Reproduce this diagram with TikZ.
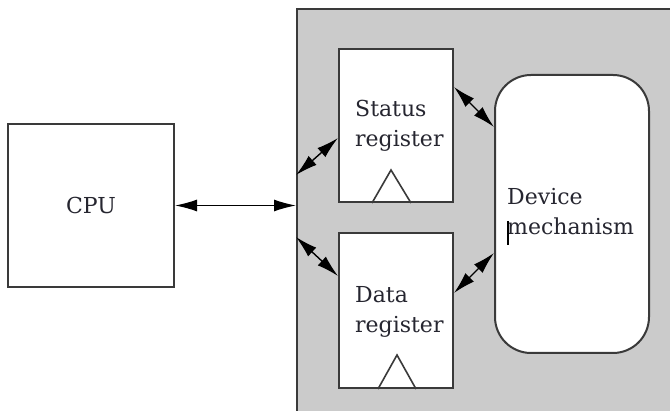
\documentclass[tikz,border=0pt]{standalone}
\usepackage{fontspec}
\setmainfont{DejaVu Serif}
\usetikzlibrary{arrows.meta}
\definecolor{iogray}{HTML}{CBCBCB}
\definecolor{edge}{HTML}{3A3A3A}
\definecolor{ink}{HTML}{262630}
\begin{document}
\begin{tikzpicture}[x=1pt,y=-1pt,
  box/.style={draw=edge, line width=2pt, fill=white, rectangle, inner sep=0pt},
  lbl/.style={font=\fontsize{22}{30}\selectfont, text=ink, inner sep=0pt, align=left},
  arr/.style={{Latex[length=22pt,width=12pt]}-{Latex[length=22pt,width=12pt]}, line width=1.4pt, black},
  clk/.style={draw=edge, line width=1.6pt}]
\useasboundingbox (0,0) rectangle (670,411);
\clip (0,0) rectangle (670,411);
\node[box, fill=iogray, minimum width=383pt, minimum height=421pt] (io) at (488.5,219.5) {};
\node[box, minimum width=166pt, minimum height=163pt] (cpu) at (91,205.5) {};
\node[lbl, font=\fontsize{22}{24}\selectfont] (cputxt) at (cpu.center) {CPU};
\node[box, minimum width=114pt, minimum height=153pt] (status) at (396,125.5) {};
\node[box, minimum width=114pt, minimum height=155pt] (data) at (396,310.5) {};
\node[box, rounded corners=36pt, minimum width=154pt, minimum height=278pt] (device) at (572,214) {};
\node[lbl, anchor=base west] (statustxt) at (355,147) {Status\\register};
\node[lbl, anchor=base west] (datatxt) at (355,333) {Data\\register};
\node[lbl, anchor=base west] (devtxt) at (507,235) {Device\\mechanism};
\draw[line width=1.2pt, black] (508,221) -- (508,245);
\draw[clk] ([xshift=-24pt]status.south) -- (391,170) -- ([xshift=15pt]status.south);
\draw[clk] ([xshift=-18pt]data.south) -- (397,355) -- ([xshift=20pt]data.south);
\draw[arr] (cpu.east) -- (cpu.east -| io.west);
\draw[arr] ([yshift=44.5pt]io.west) -- ([yshift=-12.5pt]status.west);
\draw[arr] ([yshift=-17.5pt]io.west) -- ([yshift=34.5pt]data.west);
\draw[arr] ([yshift=38.5pt]status.east) -- ([yshift=87pt]device.west);
\draw[arr] ([yshift=17.5pt]data.east) -- ([yshift=-39pt]device.west);
\end{tikzpicture}
\end{document}
